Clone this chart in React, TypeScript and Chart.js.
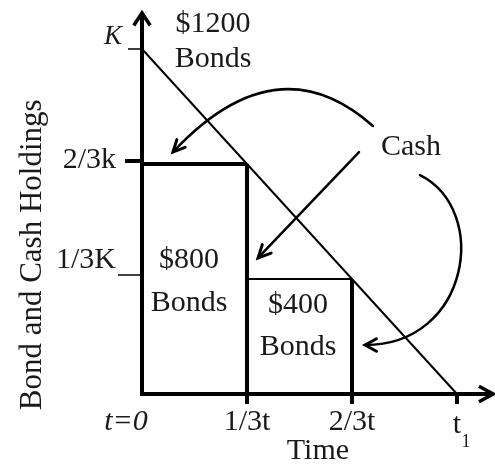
import { useEffect, useRef } from "react";
import { Chart, registerables } from "chart.js";

Chart.register(...registerables);

// Time axis, measured in thirds of the holding period
const timeTicks = [0, 1, 2, 3];
const timeTickLabels = ["t=0", "1/3t", "2/3t", "t"];
// Holdings axis, measured in thirds of K
const holdingTicks = [3, 2, 1];
const holdingTickLabels = ["K", "2/3k", "1/3K"];

// Total holdings run down linearly from K to zero over the period
const holdingsTime = [0, 3];
const holdingsValue = [3, 0];

// Bond blocks: each is held from its start until its end, at its height
const blockStart = [0, 1];
const blockEnd = [1, 2];
const blockHeight = [2, 1];
const blockLabels = ["$800", "$400"];
const topBlockLabel = "$1200";
const bondsWord = "Bonds";
const cashWord = "Cash";
const xTitle = "Time";
const yTitle = "Bond and Cash Holdings";

const INK = "#000";
const TEXT = "#1a1a1a";
const SERIF = "'Liberation Serif', 'Times New Roman', serif";

type P = { x: number; y: number };

function arrowHead(ctx: CanvasRenderingContext2D, tip: P, from: P, len: number, spread: number) {
  const ang = Math.atan2(tip.y - from.y, tip.x - from.x);
  ctx.beginPath();
  ctx.moveTo(tip.x - len * Math.cos(ang - spread), tip.y - len * Math.sin(ang - spread));
  ctx.lineTo(tip.x, tip.y);
  ctx.lineTo(tip.x - len * Math.cos(ang + spread), tip.y - len * Math.sin(ang + spread));
  ctx.stroke();
}

const diagramPlugin = {
  id: "diagram",
  afterDatasetsDraw(chart: Chart) {
    const { ctx, chartArea } = chart;
    const xs = chart.scales.x;
    const ys = chart.scales.y;
    const X = (v: number) => xs.getPixelForValue(v);
    const Y = (v: number) => ys.getPixelForValue(v);
    const pt = (x: number, y: number): P => ({ x: X(x), y: Y(y) });

    ctx.save();
    ctx.strokeStyle = INK;
    ctx.lineCap = "butt";
    ctx.lineJoin = "miter";

    // axes
    const ox = X(0);
    const oy = Y(0);
    ctx.lineWidth = 4;
    ctx.beginPath();
    ctx.moveTo(ox, oy + 2);
    ctx.lineTo(ox, chartArea.top + 1);
    ctx.moveTo(ox - 2, oy);
    ctx.lineTo(chartArea.right - 1, oy);
    ctx.stroke();
    ctx.lineWidth = 3.5;
    arrowHead(ctx, { x: ox, y: chartArea.top }, { x: ox, y: oy }, 15, 0.58);
    arrowHead(ctx, { x: chartArea.right, y: oy }, { x: ox, y: oy }, 16, 0.5);

    // time ticks below the axis
    ctx.lineWidth = 4;
    timeTicks.forEach((t) => {
      if (t === 0) return;
      ctx.beginPath();
      ctx.moveTo(X(t), oy);
      ctx.lineTo(X(t), oy + 10);
      ctx.stroke();
    });

    // holdings ticks left of the axis
    const tickLen = [14, 17, 24];
    const tickW = [1.5, 4, 1.5];
    const tickShift = [0, -3, -4];
    holdingTicks.forEach((h, i) => {
      ctx.lineWidth = tickW[i];
      ctx.beginPath();
      ctx.moveTo(ox - tickLen[i], Y(h) + tickShift[i]);
      ctx.lineTo(ox, Y(h) + tickShift[i]);
      ctx.stroke();
    });

    // cash arrows
    ctx.lineWidth = 2.5;
    ctx.lineCap = "round";
    // arc from "Cash" over to the first bond block
    const a0 = pt(2.2, 2.33);
    const a1 = pt(1.286, 3.07);
    const a2 = pt(0.295, 2.104);
    ctx.beginPath();
    ctx.moveTo(a0.x, a0.y);
    ctx.quadraticCurveTo(a1.x, a1.y, a2.x, a2.y);
    ctx.stroke();
    ctx.lineWidth = 3;
    arrowHead(ctx, a2, a1, 13, 0.45);

    // straight arrow to the second block
    ctx.lineWidth = 2.5;
    const s0 = pt(2.067, 2.104);
    const s1 = pt(1.105, 1.183);
    ctx.beginPath();
    ctx.moveTo(s0.x, s0.y);
    ctx.lineTo(s1.x, s1.y);
    ctx.stroke();
    ctx.lineWidth = 3;
    arrowHead(ctx, s1, s0, 14, 0.45);

    // curved arrow round to the third block
    ctx.lineWidth = 2.5;
    const c0 = pt(2.648, 1.904);
    const c1 = pt(3.314, 1.6);
    const c2 = pt(3.124, 0.426);
    const c3 = pt(2.124, 0.426);
    ctx.beginPath();
    ctx.moveTo(c0.x, c0.y);
    ctx.bezierCurveTo(c1.x, c1.y, c2.x, c2.y, c3.x, c3.y);
    ctx.stroke();
    ctx.lineWidth = 3;
    arrowHead(ctx, c3, c2, 13, 0.5);

    // text
    ctx.fillStyle = TEXT;
    ctx.textBaseline = "middle";
    ctx.textAlign = "center";
    const font = (px: number, italic = false) => `${italic ? "italic " : ""}${px}px ${SERIF}`;

    // time tick labels
    const ly = oy + 28;
    timeTicks.forEach((t, i) => {
      if (i === 0) {
        ctx.font = font(30, true);
        ctx.fillText(timeTickLabels[i], X(t) - 16, ly);
      } else if (i === timeTicks.length - 1) {
        ctx.font = font(30);
        ctx.fillText(timeTickLabels[i], X(t), ly + 3);
        ctx.font = font(18);
        ctx.fillText("1", X(t) + 9, ly + 20);
      } else {
        ctx.font = font(30);
        ctx.fillText(timeTickLabels[i], X(t), ly);
      }
    });
    ctx.font = font(30);
    ctx.fillText(xTitle, X(1.676), oy + 57);

    // holdings tick labels
    ctx.textAlign = "right";
    const labelShift = [-12, -4, -19];
    holdingTicks.forEach((h, i) => {
      if (i === 0) {
        ctx.font = font(27, true);
        ctx.fillText(holdingTickLabels[i], ox - 20, Y(h) + labelShift[i]);
      } else {
        ctx.font = font(30);
        ctx.fillText(holdingTickLabels[i], ox - 26, Y(h) + labelShift[i]);
      }
    });

    // axis title
    ctx.save();
    ctx.translate(33, Y(1.21));
    ctx.rotate(-Math.PI / 2);
    ctx.textAlign = "center";
    ctx.font = font(31);
    ctx.fillText(yTitle, 0, 0);
    ctx.restore();

    // block labels
    ctx.textAlign = "center";
    ctx.font = font(30);
    ctx.fillText(topBlockLabel, X(0.676), Y(3.217));
    ctx.fillText(bondsWord, X(0.676), Y(2.913));
    const labelAt = [
      { x: 0.448, y1: 1.165, y2: 0.791 },
      { x: 1.486, y1: 0.774, y2: 0.409 },
    ];
    blockLabels.forEach((lab, i) => {
      ctx.fillText(lab, X(labelAt[i].x), Y(labelAt[i].y1));
      ctx.fillText(bondsWord, X(labelAt[i].x), Y(labelAt[i].y2));
    });
    ctx.fillText(cashWord, X(2.562), Y(2.148));

    ctx.restore();
  },
};

export default function App() {
  const canvasRef = useRef<HTMLCanvasElement | null>(null);

  useEffect(() => {
    const canvas = canvasRef.current;
    if (!canvas) return;

    const line = (pts: P[], width: number) => ({
      type: "line" as const,
      data: pts,
      borderColor: INK,
      borderWidth: width,
      pointRadius: 0,
      fill: false,
      tension: 0,
      clip: false as const,
      borderJoinStyle: "miter" as const,
    });

    const datasets: any[] = [
      line(holdingsTime.map((t, i) => ({ x: t, y: holdingsValue[i] })), 2),
    ];
    blockStart.forEach((s, i) => {
      const e = blockEnd[i];
      const h = blockHeight[i];
      datasets.push(line([{ x: s, y: h }, { x: e, y: h }], i === 0 ? 4 : 2));
      datasets.push(line([{ x: e, y: h }, { x: e, y: 0 }], 4));
    });

    const chart = new Chart(canvas, {
      type: "line",
      data: { datasets },
      options: {
        animation: false,
        responsive: false,
        devicePixelRatio: 1,
        events: [],
        layout: { padding: { left: 142, right: 2, top: 13, bottom: 73 } },
        plugins: { legend: { display: false }, tooltip: { enabled: false } },
        scales: {
          x: { type: "linear", min: 0, max: 3.343, display: false },
          y: { type: "linear", min: 0, max: 3.313, display: false },
        },
      },
      plugins: [diagramPlugin],
    });

    return () => chart.destroy();
  }, []);

  return (
    <div style={{ position: "fixed", left: 0, top: 0, width: 495, height: 467, background: "#fff" }}>
      <canvas ref={canvasRef} width={495} height={467} style={{ display: "block" }} />
    </div>
  );
}
